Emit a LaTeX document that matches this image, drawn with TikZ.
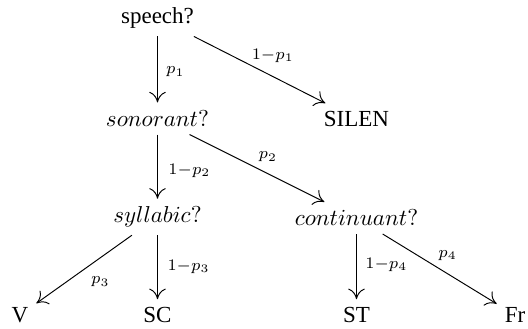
\documentclass[tikz,border=0pt]{standalone}
\usepackage[no-math]{fontspec}
\setmainfont{Liberation Serif}
\usetikzlibrary{arrows.meta}
\tikzset{
  st/.style={inner sep=0pt, outer sep=3.5pt, font=\fontsize{10}{12}\selectfont},
  lbl/.style={inner sep=0pt, outer sep=0pt},
  arr/.style={line width=0.42pt, -{Computer Modern Rightarrow[length=4.6pt,width=7.2pt]}}
}
\begin{document}
\begin{tikzpicture}[x=0.4348pt, y=-0.4348pt]
\useasboundingbox (0,0) rectangle (528,329);
\node[st] (speech) at (157.5,18) {speech?};
\node[st] (son) at (157.5,118.5) {$sonorant?$};
\node[st] (silen) at (356.5,119) {SILEN};
\node[st] (syl) at (157.5,217) {$syllabic?$};
\node[st] (cont) at (356.5,218) {$continuant?$};
\node[st] (v) at (20,315) {V};
\node[st] (sc) at (157.5,315) {SC};
\node[st] (stt) at (356.5,315) {ST};
\node[st] (fr) at (515,315) {Fr};
\draw[arr] (speech) -- node[lbl, pos=0.54, xshift=7.8pt] {$\scriptstyle p_1$} (son);
\draw[arr] (speech) -- node[lbl, pos=0.6, yshift=9pt] {$\scriptstyle 1-p_1$} (silen);
\draw[arr] (son) -- node[lbl, pos=0.56, xshift=13.9pt] {$\scriptstyle 1-p_2$} (syl);
\draw[arr] (son) -- node[lbl, pos=0.58, yshift=7.3pt] {$\scriptstyle p_2$} (cont);
\draw[arr] (syl) -- node[lbl, pos=0.33, yshift=-10.5pt] {$\scriptstyle p_3$} (v);
\draw[arr] (syl) -- node[lbl, pos=0.49, xshift=13.5pt] {$\scriptstyle 1-p_3$} (sc);
\draw[arr] (cont) -- node[lbl, pos=0.47, xshift=13pt] {$\scriptstyle 1-p_4$} (stt);
\draw[arr] (cont) -- node[lbl, pos=0.57, yshift=8pt] {$\scriptstyle p_4$} (fr);
\end{tikzpicture}
\end{document}
